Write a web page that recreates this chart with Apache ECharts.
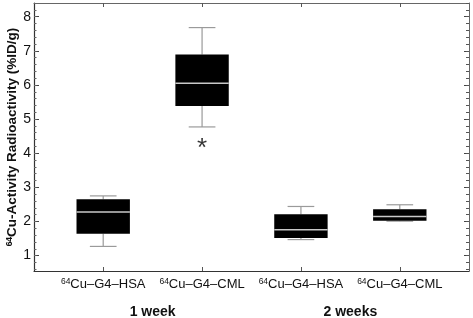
<!DOCTYPE html>
<html>
<head>
<meta charset="utf-8">
<script src="https://cdn.jsdelivr.net/npm/echarts@6/dist/echarts.min.js"></script>
<style>
  html, body { margin: 0; padding: 0; background: #fff; }
  #main { width: 473px; height: 318px; }
</style>
</head>
<body>
<div id="main"></div>
<script>
var chartDom = document.getElementById('main');
var myChart = echarts.init(chartDom, null, { renderer: 'canvas' });

// categories (x positions 1..4) and groups
const categories = ['Cu\u2013G4\u2013HSA', 'Cu\u2013G4\u2013CML', 'Cu\u2013G4\u2013HSA', 'Cu\u2013G4\u2013CML'];
const groups = ['1 week', '2 weeks'];
// box values: [min, q1, median, q3, max]
const boxes = [
    [1.27, 1.64, 2.28, 2.65, 2.75],
    [4.77, 5.38, 6.05, 6.89, 7.68],
    [1.47, 1.52, 1.76, 2.21, 2.44],
    [2.01, 2.02, 2.15, 2.36, 2.49]
];
// significance marker
const markers = [[2, 4.3]];
const yTicks = [1, 2, 3, 4, 5, 6, 7, 8];
const yMinor = [];
for (let v = 6; v <= 84; v += 2) yMinor.push(v / 10);

const font = "'Liberation Sans', Arial, sans-serif";
const boxData = boxes.map((b, i) => [i + 1].concat(b));

const yBase = {
    type: 'value', min: 0.55, max: 8.4, splitLine: { show: false },
    axisLine: { show: true, lineStyle: { color: '#333', width: 1.2 } }
};

var option = {
    animation: false,
    grid: { left: 34, right: 4, top: 3, bottom: 47, outerBoundsMode: 'none' },
    xAxis: [
        {
            type: 'value', min: 0.3, max: 4.7, position: 'bottom',
            splitLine: { show: false },
            axisLine: { onZero: false, lineStyle: { color: '#333', width: 1.2 } },
            axisTick: { inside: true, length: 4, customValues: [1, 2, 3, 4], lineStyle: { color: '#555' } },
            axisLabel: {
                customValues: [1, 2, 3, 4], margin: 6,
                formatter: (v) => '{s|64}{n|' + categories[Math.round(v) - 1] + '}',
                rich: {
                    s: { fontSize: 8.5, fontFamily: font, color: '#111', verticalAlign: 'top', lineHeight: 9, padding: [0, 0, 6, 0] },
                    n: { fontSize: 13, fontFamily: font, color: '#111', lineHeight: 15 }
                }
            }
        },
        {
            type: 'value', min: 0.3, max: 4.7, position: 'top',
            splitLine: { show: false },
            axisLine: { onZero: false, lineStyle: { color: '#666', width: 1 } },
            axisTick: { inside: true, length: 4, customValues: [1, 2, 3, 4], lineStyle: { color: '#555' } },
            axisLabel: { show: false }
        },
        {
            type: 'value', min: 0.3, max: 4.7, position: 'bottom', offset: 28,
            splitLine: { show: false }, axisLine: { show: false }, axisTick: { show: false },
            axisLabel: {
                customValues: [1.5, 3.5], margin: 6,
                formatter: (v) => groups[v < 2.5 ? 0 : 1],
                fontSize: 14, fontWeight: 'bold', fontFamily: font, color: '#111'
            }
        }
    ],
    yAxis: [
        Object.assign({}, yBase, {
            position: 'left',
            axisTick: { inside: true, length: 5, customValues: yTicks, lineStyle: { color: '#444' } },
            axisLabel: { customValues: yTicks, fontSize: 14, fontFamily: font, color: '#111', margin: 3 },
            name: '{s|64}{n|Cu-Activity Radioactivity (%ID/g)}',
            nameLocation: 'middle', nameRotate: 90, nameGap: 14, nameMoveOverlap: false,
            nameTextStyle: {
                rich: {
                    s: { fontSize: 8.5, fontFamily: font, fontWeight: 'bold', color: '#111', verticalAlign: 'top', lineHeight: 9, padding: [0, 0, 6, 0] },
                    n: { fontSize: 13.5, fontFamily: font, fontWeight: 'bold', color: '#111', lineHeight: 15 }
                }
            }
        }),
        Object.assign({}, yBase, {
            position: 'left', axisLine: { show: false },
            axisTick: { inside: true, length: 2.5, customValues: yMinor, lineStyle: { color: '#666' } },
            axisLabel: { show: false }
        }),
        Object.assign({}, yBase, {
            position: 'right', axisLine: { show: true, lineStyle: { color: '#666', width: 1 } },
            axisTick: { inside: true, length: 5, customValues: yTicks, lineStyle: { color: '#444' } },
            axisLabel: { show: false }
        }),
        Object.assign({}, yBase, {
            position: 'right', axisLine: { show: false },
            axisTick: { inside: true, length: 3, customValues: yMinor, lineStyle: { color: '#555' } },
            axisLabel: { show: false }
        })
    ],
    series: [
        {
            type: 'custom',
            xAxisIndex: 0, yAxisIndex: 0,
            data: boxData,
            encode: { x: 0, y: [1, 2, 3, 4, 5] },
            renderItem: function (params, api) {
                const x = api.value(0);
                const pMin = api.coord([x, api.value(1)]);
                const pQ1 = api.coord([x, api.value(2)]);
                const pMed = api.coord([x, api.value(3)]);
                const pQ3 = api.coord([x, api.value(4)]);
                const pMax = api.coord([x, api.value(5)]);
                const half = api.size([0.27, 0])[0];
                const cap = api.size([0.135, 0])[0];
                const cx = pMin[0];
                const wStyle = { stroke: '#9a9a9a', lineWidth: 1.2 };
                return {
                    type: 'group',
                    children: [
                        { type: 'line', shape: { x1: cx, y1: pMax[1], x2: cx, y2: pQ3[1] }, style: wStyle },
                        { type: 'line', shape: { x1: cx - cap, y1: pMax[1], x2: cx + cap, y2: pMax[1] }, style: wStyle },
                        { type: 'line', shape: { x1: cx, y1: pMin[1], x2: cx, y2: pQ1[1] }, style: wStyle },
                        { type: 'line', shape: { x1: cx - cap, y1: pMin[1], x2: cx + cap, y2: pMin[1] }, style: wStyle },
                        { type: 'rect', shape: { x: cx - half, y: pQ3[1], width: half * 2, height: pQ1[1] - pQ3[1] }, style: { fill: '#000' } },
                        { type: 'line', shape: { x1: cx - half, y1: pMed[1], x2: cx + half, y2: pMed[1] }, style: { stroke: '#c8c8c8', lineWidth: 1.5 } }
                    ]
                };
            }
        },
        {
            type: 'scatter',
            xAxisIndex: 0, yAxisIndex: 0,
            data: markers,
            symbolSize: 0,
            label: {
                show: true, position: 'inside', formatter: '*',
                fontSize: 26, fontFamily: font, color: '#000', offset: [0, 6]
            }
        }
    ]
};
option && myChart.setOption(option);
</script>
</body>
</html>
